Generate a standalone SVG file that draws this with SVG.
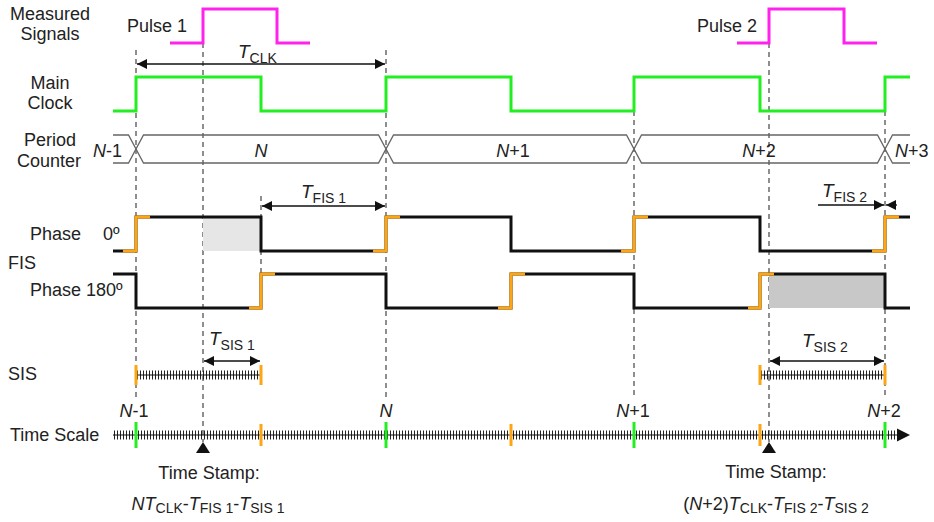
<svg xmlns="http://www.w3.org/2000/svg" width="934" height="522" viewBox="0 0 934 522">
<style>
text{font-family:"Liberation Sans",Arial,sans-serif;font-size:18px;fill:#222}
.it{font-style:italic}
.s{font-size:14px}
.mid{text-anchor:middle}
.dash{stroke:#444;stroke-width:1.2;stroke-dasharray:5 4;fill:none}
.wave{fill:none;stroke:#111;stroke-width:3;stroke-linejoin:miter}
.org{fill:none;stroke:#ffa514;stroke-width:3;stroke-linejoin:miter}
.clk{fill:none;stroke:#22ee22;stroke-width:3}
.pul{fill:none;stroke:#ff22ee;stroke-width:3}
.bus{fill:none;stroke:#666;stroke-width:1.3}
.dim{stroke:#111;stroke-width:1.3;fill:none}
.ticks{stroke:#222;stroke-width:9;stroke-dasharray:1 2;fill:none}
.axis{stroke:#111;stroke-width:1.2;fill:none}
.gt{stroke:#22ee22;stroke-width:3}
.ot{stroke:#ffa514;stroke-width:3}
</style>
<defs>
<marker id="ah" viewBox="0 0 10 10" refX="10" refY="5" markerWidth="11" markerHeight="10" markerUnits="userSpaceOnUse" orient="auto-start-reverse">
<path d="M0,0 L10,5 L0,10 z" fill="#111"/>
</marker>
</defs>

<g id="labels">
<text x="50" y="19.5" class="mid">Measured</text>
<text x="50" y="39.5" class="mid">Signals</text>
<text x="50" y="89" class="mid">Main</text>
<text x="50" y="109" class="mid">Clock</text>
<text x="50" y="146" class="mid">Period</text>
<text x="49" y="166.5" class="mid">Counter</text>
<text x="30" y="239.5">Phase</text>
<text x="103" y="239.5">0º</text>
<text x="8" y="269">FIS</text>
<text x="30" y="296">Phase 180º</text>
<text x="8" y="380">SIS</text>
<text x="10" y="441">Time Scale</text>
</g>

<g id="guides">
<line class="dash" x1="136" y1="50" x2="136" y2="397"/>
<line class="dash" x1="203" y1="43" x2="203" y2="442"/>
<line class="dash" x1="261" y1="196" x2="261" y2="274"/>
<line class="dash" x1="386" y1="50" x2="386" y2="398"/>
<line class="dash" x1="634" y1="111" x2="634" y2="398"/>
<line class="dash" x1="769" y1="43" x2="769" y2="442"/>
<line class="dash" x1="885" y1="111" x2="885" y2="398"/>
</g>

<g id="pulse1">
<text x="187" y="32" text-anchor="end">Pulse 1</text>
<path class="pul" d="M170,43 H203 V9 H277 V43 H310"/>
</g>
<g id="pulse2">
<text x="757" y="32" text-anchor="end">Pulse 2</text>
<path class="pul" d="M737,43 H769 V9 H844 V43 H877"/>
</g>

<g id="main-clock">
<path class="clk" d="M113,111 H136 V77 H261 V111 H386 V77 H511 V111 H634 V77 H760 V111 H885 V77 H910"/>
</g>

<g id="period-counter">
<path class="bus" d="M113,135 H128.5 L143.5,163 H378.5 L393.5,135 H626.5 L641.5,163 H877.5 L892.5,135 H910"/>
<path class="bus" d="M113,163 H128.5 L143.5,135 H378.5 L393.5,163 H626.5 L641.5,135 H877.5 L892.5,163 H910"/>
<text x="122" y="157" text-anchor="end"><tspan class="it">N</tspan>-1</text>
<text x="261" y="157" class="mid it">N</text>
<text x="513" y="157" class="mid"><tspan class="it">N</tspan>+1</text>
<text x="759" y="157" class="mid"><tspan class="it">N</tspan>+2</text>
<text x="895" y="157"><tspan class="it">N</tspan>+3</text>
</g>

<g id="phase0">
<rect x="203" y="217" width="58" height="34" fill="#e6e6e6"/>
<path class="wave" d="M113,251 H136 V217 H261 V251 H386 V217 H511 V251 H634 V217 H760 V251 H885 V217 H910"/>
<path class="org" d="M123,251 H136 V217 H150 M373,251 H386 V217 H400 M621,251 H634 V217 H648 M872,251 H885 V217 H899"/>
</g>

<g id="phase180">
<rect x="769" y="274" width="116" height="34" fill="#c8c8c8"/>
<path class="wave" d="M113,274 H136 V308 H261 V274 H386 V308 H511 V274 H634 V308 H760 V274 H885 V308 H910"/>
<path class="org" d="M249,308 H261 V274 H275 M498,308 H511 V274 H525 M748,308 H760 V274 H774"/>
</g>

<g id="sis">
<line class="ticks" x1="137" y1="375" x2="261" y2="375"/>
<line class="axis" x1="136" y1="375" x2="261" y2="375"/>
<line class="ot" x1="136" y1="365" x2="136" y2="385"/>
<line class="ot" x1="261" y1="365" x2="261" y2="385"/>
<line class="ticks" x1="761" y1="375" x2="885" y2="375"/>
<line class="axis" x1="760" y1="375" x2="885" y2="375"/>
<line class="ot" x1="760" y1="365" x2="760" y2="385"/>
<line class="ot" x1="885" y1="365" x2="885" y2="385"/>
</g>

<g id="time-scale">
<line class="ticks" x1="114" y1="435" x2="897" y2="435"/>
<line class="axis" x1="113" y1="435" x2="900" y2="435"/>
<path d="M897,428.5 L910,435 L897,441.5 z" fill="#111"/>
<line class="gt" x1="136" y1="422" x2="136" y2="448"/>
<line class="gt" x1="386" y1="422" x2="386" y2="448"/>
<line class="gt" x1="634" y1="422" x2="634" y2="448"/>
<line class="gt" x1="885" y1="422" x2="885" y2="448"/>
<line class="ot" x1="261" y1="424" x2="261" y2="446"/>
<line class="ot" x1="511" y1="424" x2="511" y2="446"/>
<line class="ot" x1="760" y1="424" x2="760" y2="446"/>
<text x="134" y="416.5" class="mid"><tspan class="it">N</tspan>-1</text>
<text x="386" y="416.5" class="mid it">N</text>
<text x="633" y="416.5" class="mid"><tspan class="it">N</tspan>+1</text>
<text x="884" y="416.5" class="mid"><tspan class="it">N</tspan>+2</text>
</g>

<g id="timestamp1">
<polygon points="203,442 196,453 210,453" fill="#111"/>
<text x="209" y="479" class="mid">Time Stamp:</text>
<text x="208" y="510" class="mid"><tspan class="it">NT</tspan><tspan class="s" dy="3">CLK</tspan><tspan dy="-3">-</tspan><tspan class="it">T</tspan><tspan class="s" dy="3">FIS 1</tspan><tspan dy="-3">-</tspan><tspan class="it">T</tspan><tspan class="s" dy="3">SIS 1</tspan></text>
</g>
<g id="timestamp2">
<polygon points="769,442 762,453 776,453" fill="#111"/>
<text x="776" y="478" class="mid">Time Stamp:</text>
<text x="776" y="510" class="mid">(<tspan class="it">N</tspan>+2)<tspan class="it">T</tspan><tspan class="s" dy="3">CLK</tspan><tspan dy="-3">-</tspan><tspan class="it">T</tspan><tspan class="s" dy="3">FIS 2</tspan><tspan dy="-3">-</tspan><tspan class="it">T</tspan><tspan class="s" dy="3">SIS 2</tspan></text>
</g>

<g id="connectors">
<line class="dim" x1="137" y1="64" x2="385" y2="64" marker-start="url(#ah)" marker-end="url(#ah)"/>
<text x="238" y="58"><tspan class="it" font-size="19">T</tspan><tspan class="s" dy="5">CLK</tspan></text>
<line class="dim" x1="262" y1="206" x2="385" y2="206" marker-start="url(#ah)" marker-end="url(#ah)"/>
<text x="301" y="198"><tspan class="it" font-size="19">T</tspan><tspan class="s" dy="5">FIS 1</tspan></text>
<line class="dim" x1="818" y1="205" x2="884" y2="205" marker-end="url(#ah)"/>
<line class="dim" x1="897" y1="205" x2="886" y2="205" marker-end="url(#ah)"/>
<text x="822" y="197"><tspan class="it" font-size="19">T</tspan><tspan class="s" dy="5">FIS 2</tspan></text>
<line class="dim" x1="204" y1="361" x2="260" y2="361" marker-start="url(#ah)" marker-end="url(#ah)"/>
<text x="209" y="345"><tspan class="it" font-size="19">T</tspan><tspan class="s" dy="5">SIS 1</tspan></text>
<line class="dim" x1="770" y1="361" x2="884" y2="361" marker-start="url(#ah)" marker-end="url(#ah)"/>
<text x="802" y="347"><tspan class="it" font-size="19">T</tspan><tspan class="s" dy="5">SIS 2</tspan></text>
</g>
</svg>
